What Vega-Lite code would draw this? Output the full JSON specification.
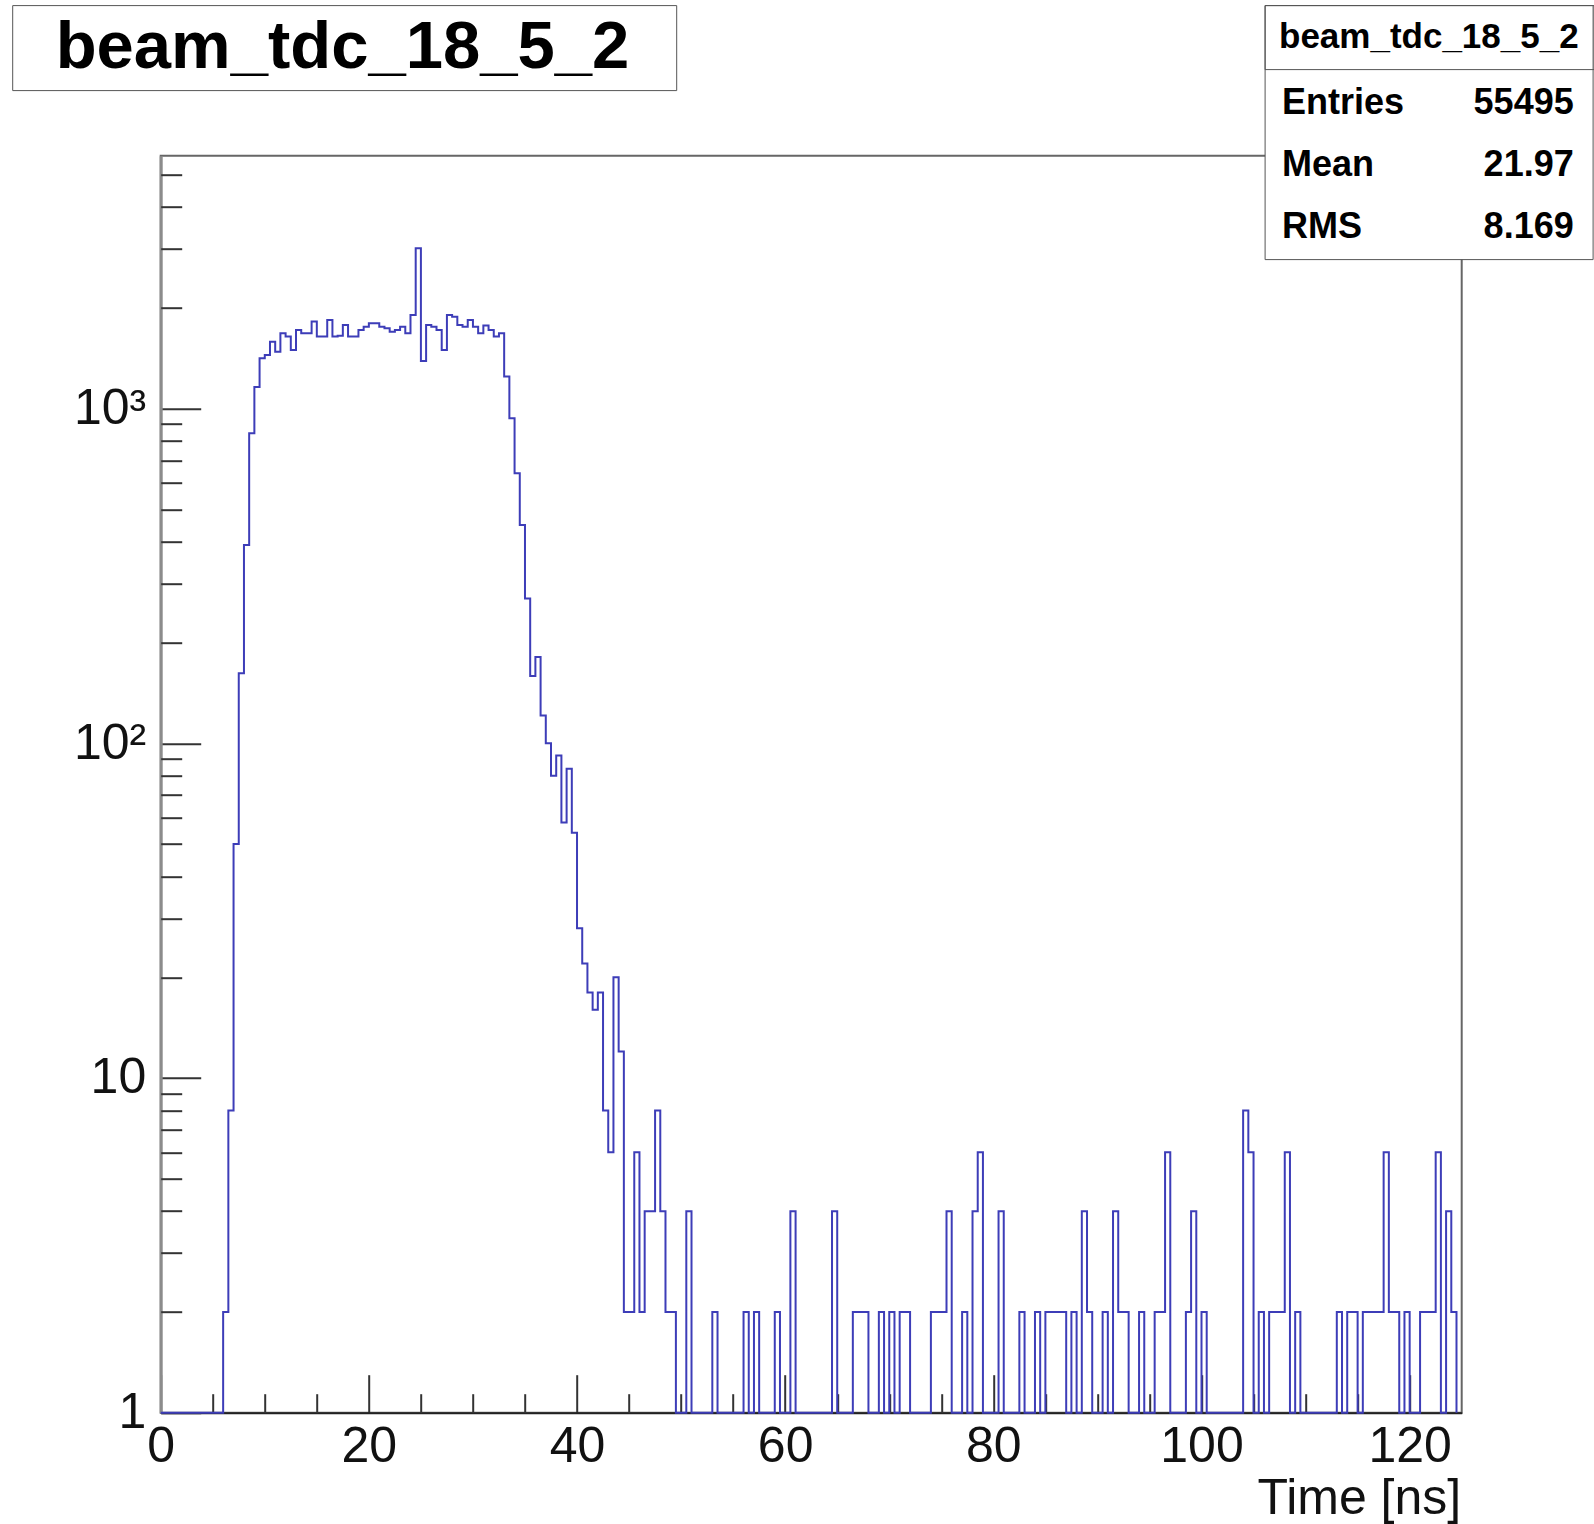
{
  "$schema": "https://vega.github.io/schema/vega-lite/v6.json",
  "autosize": {"type": "none"},
  "width": 1301,
  "height": 1257,
  "padding": {"left": 160.7, "top": 155.7, "right": 132.3, "bottom": 111.3},
  "background": "white",
  "config": {
    "view": {"stroke": "#666666", "strokeWidth": 2},
    "axis": {"grid": false, "labelFlush": false, "labelFont": "Liberation Sans", "titleFont": "Liberation Sans", "labelColor": "#111111", "titleColor": "#111111", "tickColor": "#333333", "tickWidth": 2}
  },
  "datasets": {
    "hist": [
      {"t":0,"n":0},{"t":0.5,"n":0},{"t":1,"n":0},{"t":1.5,"n":0},{"t":2,"n":0},{"t":2.5,"n":0},{"t":3,"n":0},{"t":3.5,"n":0},{"t":4,"n":0},{"t":4.5,"n":0},{"t":5,"n":0},{"t":5.5,"n":0},
      {"t":6,"n":2},{"t":6.5,"n":8},{"t":7,"n":50},{"t":7.5,"n":162},{"t":8,"n":391},{"t":8.5,"n":844},{"t":9,"n":1160},{"t":9.5,"n":1413},
      {"t":10,"n":1445},{"t":10.5,"n":1585},{"t":11,"n":1479},{"t":11.5,"n":1679},{"t":12,"n":1641},{"t":12.5,"n":1497},{"t":13,"n":1718},{"t":13.5,"n":1679},{"t":14,"n":1679},{"t":14.5,"n":1820},
      {"t":15,"n":1641},{"t":15.5,"n":1641},{"t":16,"n":1840},{"t":16.5,"n":1641},{"t":17,"n":1650},{"t":17.5,"n":1777},{"t":18,"n":1641},{"t":18.5,"n":1641},{"t":19,"n":1718},{"t":19.5,"n":1757},
      {"t":20,"n":1798},{"t":20.5,"n":1798},{"t":21,"n":1757},{"t":21.5,"n":1738},{"t":22,"n":1698},{"t":22.5,"n":1718},{"t":23,"n":1757},{"t":23.5,"n":1679},{"t":24,"n":1905},{"t":24.5,"n":3013},
      {"t":25,"n":1387},{"t":25.5,"n":1778},{"t":26,"n":1757},{"t":26.5,"n":1718},{"t":27,"n":1497},{"t":27.5,"n":1905},{"t":28,"n":1882},{"t":28.5,"n":1778},{"t":29,"n":1757},{"t":29.5,"n":1840},
      {"t":30,"n":1757},{"t":30.5,"n":1679},{"t":31,"n":1770},{"t":31.5,"n":1718},{"t":32,"n":1641},{"t":32.5,"n":1679},{"t":33,"n":1246},{"t":33.5,"n":935},{"t":34,"n":641},{"t":34.5,"n":449},
      {"t":35,"n":271},{"t":35.5,"n":159},{"t":36,"n":181},{"t":36.5,"n":121},{"t":37,"n":100},{"t":37.5,"n":80},{"t":38,"n":92},{"t":38.5,"n":58},{"t":39,"n":84},{"t":39.5,"n":54},
      {"t":40,"n":28},{"t":40.5,"n":22},{"t":41,"n":18},{"t":41.5,"n":16},{"t":42,"n":18},{"t":42.5,"n":8},{"t":43,"n":6},{"t":43.5,"n":20},{"t":44,"n":12},{"t":44.5,"n":2},
      {"t":45,"n":2},{"t":45.5,"n":6},{"t":46,"n":2},{"t":46.5,"n":4},{"t":47,"n":4},{"t":47.5,"n":8},{"t":48,"n":4},{"t":48.5,"n":2},{"t":49,"n":2},{"t":49.5,"n":0},
      {"t":50,"n":0},{"t":50.5,"n":4},{"t":51,"n":0},{"t":51.5,"n":0},{"t":52,"n":0},{"t":52.5,"n":0},{"t":53,"n":2},{"t":53.5,"n":0},{"t":54,"n":0},{"t":54.5,"n":0},
      {"t":55,"n":0},{"t":55.5,"n":0},{"t":56,"n":2},{"t":56.5,"n":0},{"t":57,"n":2},{"t":57.5,"n":0},{"t":58,"n":0},{"t":58.5,"n":0},{"t":59,"n":2},{"t":59.5,"n":0},
      {"t":60,"n":0},{"t":60.5,"n":4},{"t":61,"n":0},{"t":61.5,"n":0},{"t":62,"n":0},{"t":62.5,"n":0},{"t":63,"n":0},{"t":63.5,"n":0},{"t":64,"n":0},{"t":64.5,"n":4},
      {"t":65,"n":0},{"t":65.5,"n":0},{"t":66,"n":0},{"t":66.5,"n":2},{"t":67,"n":2},{"t":67.5,"n":2},{"t":68,"n":0},{"t":68.5,"n":0},{"t":69,"n":2},{"t":69.5,"n":0},
      {"t":70,"n":2},{"t":70.5,"n":0},{"t":71,"n":2},{"t":71.5,"n":2},{"t":72,"n":0},{"t":72.5,"n":0},{"t":73,"n":0},{"t":73.5,"n":0},{"t":74,"n":2},{"t":74.5,"n":2},
      {"t":75,"n":2},{"t":75.5,"n":4},{"t":76,"n":0},{"t":76.5,"n":0},{"t":77,"n":2},{"t":77.5,"n":0},{"t":78,"n":4},{"t":78.5,"n":6},{"t":79,"n":0},{"t":79.5,"n":0},
      {"t":80,"n":0},{"t":80.5,"n":4},{"t":81,"n":0},{"t":81.5,"n":0},{"t":82,"n":0},{"t":82.5,"n":2},{"t":83,"n":0},{"t":83.5,"n":0},{"t":84,"n":2},{"t":84.5,"n":0},
      {"t":85,"n":2},{"t":85.5,"n":2},{"t":86,"n":2},{"t":86.5,"n":2},{"t":87,"n":0},{"t":87.5,"n":2},{"t":88,"n":0},{"t":88.5,"n":4},{"t":89,"n":2},{"t":89.5,"n":0},
      {"t":90,"n":0},{"t":90.5,"n":2},{"t":91,"n":0},{"t":91.5,"n":4},{"t":92,"n":2},{"t":92.5,"n":2},{"t":93,"n":0},{"t":93.5,"n":0},{"t":94,"n":2},{"t":94.5,"n":0},
      {"t":95,"n":0},{"t":95.5,"n":2},{"t":96,"n":2},{"t":96.5,"n":6},{"t":97,"n":0},{"t":97.5,"n":0},{"t":98,"n":0},{"t":98.5,"n":2},{"t":99,"n":4},{"t":99.5,"n":0},
      {"t":100,"n":2},{"t":100.5,"n":0},{"t":101,"n":0},{"t":101.5,"n":0},{"t":102,"n":0},{"t":102.5,"n":0},{"t":103,"n":0},{"t":103.5,"n":0},{"t":104,"n":8},{"t":104.5,"n":6},
      {"t":105,"n":0},{"t":105.5,"n":2},{"t":106,"n":0},{"t":106.5,"n":2},{"t":107,"n":2},{"t":107.5,"n":2},{"t":108,"n":6},{"t":108.5,"n":0},{"t":109,"n":2},{"t":109.5,"n":0},
      {"t":110,"n":0},{"t":110.5,"n":0},{"t":111,"n":0},{"t":111.5,"n":0},{"t":112,"n":0},{"t":112.5,"n":0},{"t":113,"n":2},{"t":113.5,"n":0},{"t":114,"n":2},{"t":114.5,"n":2},
      {"t":115,"n":0},{"t":115.5,"n":2},{"t":116,"n":2},{"t":116.5,"n":2},{"t":117,"n":2},{"t":117.5,"n":6},{"t":118,"n":2},{"t":118.5,"n":2},{"t":119,"n":0},{"t":119.5,"n":2},
      {"t":120,"n":0},{"t":120.5,"n":0},{"t":121,"n":2},{"t":121.5,"n":2},{"t":122,"n":2},{"t":122.5,"n":6},{"t":123,"n":0},{"t":123.5,"n":4},{"t":124,"n":2},{"t":124.5,"n":0}
    ],
    "stats": [
      {"hist": "beam_tdc_18_5_2", "stat": "Entries", "value": "55495"},
      {"hist": "beam_tdc_18_5_2", "stat": "Mean", "value": "21.97"},
      {"hist": "beam_tdc_18_5_2", "stat": "RMS", "value": "8.169"}
    ],
    "titlebox": [{"name": "beam_tdc_18_5_2"}]
  },
  "layer": [
    {
      "data": {"name": "hist"},
      "mark": {"type": "line", "interpolate": "step-after", "color": "#3d3db8", "strokeWidth": 2, "invalid": null},
      "encoding": {
        "x": {
          "field": "t", "type": "quantitative",
          "scale": {"domain": [0, 125], "nice": false, "zero": false},
          "axis": {
            "orient": "bottom", "values": [0, 20, 40, 60, 80, 100, 120], "tickSize": -38,
            "labelFontSize": 50, "labelPadding": 47, "domainColor": "#222222", "domainWidth": 2,
            "title": "Time [ns]", "titleFontSize": 50, "titleFontWeight": "normal",
            "titleX": 1300, "titleY": 101, "titleAlign": "right", "titleBaseline": "alphabetic"
          }
        },
        "y": {
          "field": "n", "type": "quantitative",
          "scale": {"type": "log", "domain": [1, 5696], "nice": false, "clamp": true},
          "axis": {
            "orient": "left", "values": [1, 10, 100, 1000], "tickSize": -40,
            "labelFontSize": 50, "labelPadding": 55,
            "labelExpr": "datum.value == 1 ? '1' : datum.value == 10 ? '10' : datum.value == 100 ? '10²' : '10³'",
            "domainColor": "#8c8c8c", "domainWidth": 3, "title": null
          }
        }
      }
    },
    {
      "data": {"name": "hist"},
      "mark": {"type": "line", "interpolate": "step-after", "opacity": 0, "invalid": null},
      "encoding": {
        "x": {
          "field": "t", "type": "quantitative",
          "axis": {"orient": "bottom", "values": [5, 10, 15, 25, 30, 35, 45, 50, 55, 65, 70, 75, 85, 90, 95, 105, 110, 115], "tickSize": -19, "labels": false, "domain": false, "title": null}
        },
        "y": {
          "field": "n", "type": "quantitative",
          "axis": {"orient": "left", "values": [2, 3, 4, 5, 6, 7, 8, 9, 20, 30, 40, 50, 60, 70, 80, 90, 200, 300, 400, 500, 600, 700, 800, 900, 2000, 3000, 4000, 5000], "tickSize": -21, "labels": false, "domain": false, "title": null}
        }
      }
    },
    {
      "data": {"name": "titlebox"},
      "mark": {"type": "point", "opacity": 0},
      "encoding": {
        "shape": {
          "field": "name", "type": "nominal",
          "legend": {
            "orient": "none", "legendX": -148.5, "legendY": -150.6, "padding": 9.2, "zindex": 1,
            "strokeColor": "#555555", "fillColor": "white", "title": null,
            "symbolSize": 1, "symbolOpacity": 0, "symbolStrokeWidth": 0, "labelOffset": -70,
            "labelFont": "Liberation Sans", "labelFontWeight": "bold", "labelFontSize": 67, "labelColor": "black", "labelLimit": 0,
            "labelExpr": "'\u200b\u00a0\u00a0' + datum.label + '\u00a0\u00a0\u200b'"
          }
        }
      }
    },
    {
      "data": {"name": "stats"},
      "mark": {"type": "point", "opacity": 0},
      "encoding": {
        "color": {
          "field": "stat", "type": "nominal", "sort": null,
          "legend": {
            "orient": "none", "legendX": 1103.9, "legendY": -150.6, "padding": 14, "zindex": 1,
            "strokeColor": "#555555", "fillColor": "white",
            "title": "beam_tdc_18_5_2", "titleFont": "Liberation Sans", "titleFontWeight": "bold", "titleFontSize": 35, "titleColor": "transparent", "titleLimit": 0, "titlePadding": 30.6,
            "symbolSize": 1, "symbolOpacity": 0, "symbolStrokeWidth": 0, "labelOffset": -32.6,
            "labelFont": "Liberation Sans", "labelFontWeight": "bold", "labelFontSize": 36, "labelColor": "black", "labelLimit": 0, "rowPadding": 26
          }
        }
      }
    },
    {
      "data": {"name": "stats"},
      "mark": {"type": "point", "opacity": 0},
      "encoding": {
        "strokeDash": {
          "field": "hist", "type": "nominal",
          "legend": {
            "orient": "none", "legendX": 1103.9, "legendY": -150.6, "padding": 14, "zindex": 2,
            "strokeColor": "#555555", "title": null,
            "symbolSize": 1, "symbolOpacity": 0, "symbolStrokeWidth": 0, "labelOffset": -34.6,
            "labelFont": "Liberation Sans", "labelFontWeight": "bold", "labelFontSize": 35, "labelColor": "black", "labelLimit": 0
          }
        }
      }
    },
    {
      "data": {"name": "stats"},
      "mark": {"type": "point", "opacity": 0},
      "encoding": {
        "fill": {
          "field": "value", "type": "nominal", "sort": null,
          "legend": {
            "orient": "none", "legendX": 1413, "legendY": -71, "padding": 0, "zindex": 2, "title": null,
            "symbolSize": 1, "symbolOpacity": 0, "symbolStrokeWidth": 0, "labelOffset": -36, "labelAlign": "right",
            "labelFont": "Liberation Sans", "labelFontWeight": "bold", "labelFontSize": 36, "labelColor": "black", "labelLimit": 0, "rowPadding": 26
          }
        }
      }
    }
  ],
  "resolve": {"axis": {"x": "independent", "y": "independent"}}
}
